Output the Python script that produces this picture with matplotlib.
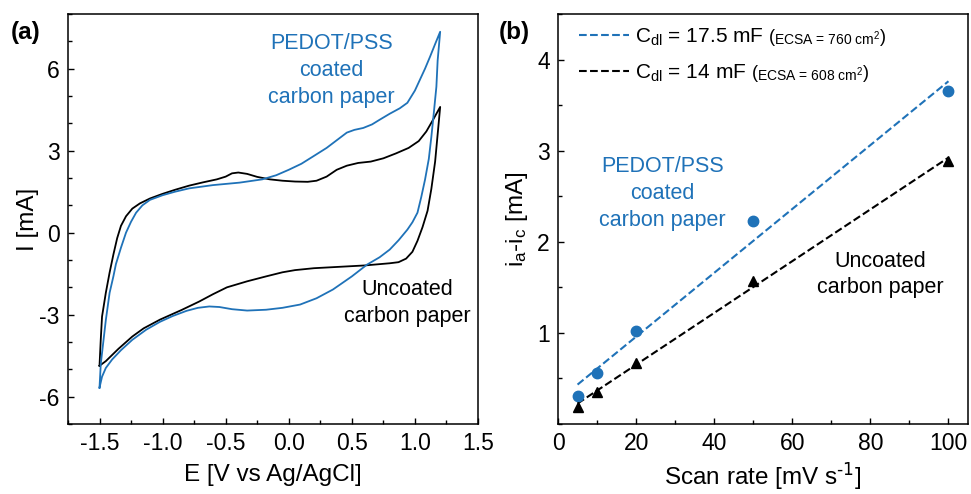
import numpy as np
import matplotlib.pyplot as plt
from matplotlib.ticker import MultipleLocator

plt.rcParams['font.family'] = ['Liberation Sans', 'DejaVu Sans']
plt.rcParams['mathtext.default'] = 'regular'
plt.rcParams['axes.unicode_minus'] = False

blue = '#1f72b8'

# (a) cyclic voltammograms
E_unc = [-1.5, -1.49, -1.48, -1.45, -1.42, -1.39, -1.36, -1.33, -1.29, -1.24, -1.18,
         -1.1, -1.0, -0.9, -0.79, -0.68, -0.57, -0.5, -0.45, -0.4, -0.33, -0.25,
         -0.15, -0.05, 0.05, 0.15, 0.22, 0.3, 0.38, 0.46, 0.55, 0.65, 0.75, 0.85,
         0.95, 1.03, 1.09, 1.14, 1.2,
         1.18, 1.16, 1.13, 1.1, 1.06, 1.02, 0.98, 0.93, 0.87, 0.8, 0.6, 0.4, 0.2,
         0.05, -0.05, -0.18, -0.33, -0.49, -0.6, -0.71, -0.85, -1.02, -1.15, -1.24,
         -1.35, -1.45, -1.5]
I_unc = [-4.87, -3.9, -3.07, -2.2, -1.46, -0.8, -0.2, 0.25, 0.6, 0.88, 1.07,
         1.25, 1.42, 1.57, 1.72, 1.84, 1.95, 2.05, 2.17, 2.2, 2.15, 2.04,
         1.95, 1.9, 1.87, 1.86, 1.9, 2.05, 2.3, 2.45, 2.55, 2.6, 2.72, 2.9,
         3.1, 3.35, 3.7, 4.1, 4.6,
         3.6, 2.6, 1.6, 0.8, 0.2, -0.3, -0.7, -0.95, -1.08, -1.12, -1.2, -1.25, -1.3,
         -1.37, -1.45, -1.6, -1.78, -2.0, -2.25, -2.52, -2.83, -3.18, -3.5, -3.8,
         -4.25, -4.7, -4.87]

E_ped = [-1.5, -1.49, -1.47, -1.45, -1.42, -1.39, -1.37, -1.33, -1.29, -1.25, -1.21,
         -1.16, -1.1, -1.0, -0.9, -0.79, -0.6, -0.39, -0.21, -0.1, 0.0, 0.1, 0.19,
         0.3, 0.4, 0.46, 0.52, 0.59, 0.66, 0.72, 0.8, 0.88, 0.94, 1.0, 1.04, 1.08,
         1.12, 1.16, 1.2,
         1.18, 1.17, 1.15, 1.13, 1.11, 1.08, 1.05, 1.02, 0.98, 0.94, 0.87, 0.8, 0.72,
         0.62, 0.5, 0.35, 0.22, 0.09, -0.05, -0.18, -0.33, -0.45, -0.55, -0.63,
         -0.72, -0.81, -0.92, -1.02, -1.13, -1.24, -1.33, -1.4, -1.45, -1.48, -1.5]
I_ped = [-5.67, -4.8, -4.0, -3.2, -2.2, -1.6, -1.15, -0.55, 0.0, 0.4, 0.73,
         1.0, 1.2, 1.37, 1.5, 1.62, 1.74, 1.83, 1.95, 2.1, 2.3, 2.52, 2.78,
         3.1, 3.45, 3.66, 3.76, 3.83, 3.96, 4.13, 4.35, 4.55, 4.75, 5.2, 5.6, 6.0,
         6.44, 6.9, 7.35,
         6.3, 5.34, 4.4, 3.5, 2.7, 1.94, 1.3, 0.73, 0.38, 0.11, -0.28, -0.62, -0.9,
         -1.17, -1.6, -2.08, -2.4, -2.63, -2.75, -2.82, -2.85, -2.8, -2.72, -2.7,
         -2.75, -2.86, -3.05, -3.26, -3.55, -3.92, -4.3, -4.64, -4.95, -5.27, -5.67]

# (b) double layer capacitance
scan_rate = np.array([5, 10, 20, 50, 100])
di_ped = np.array([0.31, 0.56, 1.02, 2.23, 3.65])
di_unc = np.array([0.19, 0.35, 0.67, 1.57, 2.89])
labels = ['C$_{dl}$ = 17.5 mF', 'C$_{dl}$ = 14 mF']
ecsa = ['760', '608']

fig = plt.figure(figsize=(9.71, 4.94), dpi=100)
ax1 = fig.add_axes([0.070, 0.1417, 0.4223, 0.83])
ax2 = fig.add_axes([0.5747, 0.1417, 0.4222, 0.83])

for ax in (ax1, ax2):
    ax.tick_params(which='both', direction='in', labelsize=16.5, top=False, right=False)
    ax.tick_params(which='major', length=4.5, width=1, pad=6)
    ax.tick_params(which='minor', length=3, width=1)
    for s in ax.spines.values():
        s.set_linewidth(1.1)

ax1.plot(E_unc, I_unc, color='black', lw=1.3)
ax1.plot(E_ped, I_ped, color=blue, lw=1.3)
ax1.set_xlim(-1.75, 1.5)
ax1.set_ylim(-7, 8)
ax1.xaxis.set_major_locator(MultipleLocator(0.5))
ax1.xaxis.set_minor_locator(MultipleLocator(0.25))
ax1.yaxis.set_major_locator(MultipleLocator(3))
ax1.yaxis.set_minor_locator(MultipleLocator(1))
ax1.xaxis.set_major_formatter(plt.FuncFormatter(lambda v, p: f'{v:.1f}'))
ax1.set_xlabel('E [V vs Ag/AgCl]', fontsize=17.5, labelpad=6)
ax1.set_ylabel('I [mA]', fontsize=17.5, labelpad=0)
ax1.text(0.34, 5.93, 'PEDOT/PSS\ncoated\ncarbon paper', color=blue, fontsize=15.5,
         ha='center', va='center', linespacing=1.4)
ax1.text(0.94, -2.58, 'Uncoated\ncarbon paper', color='black', fontsize=15.5,
         ha='center', va='center', linespacing=1.35)
fig.text(0.026, 0.935, '(a)', fontsize=17.5, fontweight='bold', ha='center', va='center')

# linear fits
for y, c in [(di_ped, blue), (di_unc, 'black')]:
    k, b = np.polyfit(scan_rate, y, 1)
    ax2.plot(scan_rate, k * scan_rate + b, '--', color=c, lw=1.5)
ax2.plot(scan_rate, di_ped, 'o', color=blue, ms=7.5, zorder=3)
ax2.plot(scan_rate, di_unc, '^', color='black', ms=7.5, zorder=3)
ax2.set_xlim(0, 105)
ax2.set_ylim(0, 4.5)
ax2.xaxis.set_major_locator(MultipleLocator(20))
ax2.xaxis.set_minor_locator(MultipleLocator(10))
ax2.yaxis.set_minor_locator(MultipleLocator(0.5))
ax2.set_yticks([1, 2, 3, 4])
ax2.set_xlabel('Scan rate [mV s$^{\\text{-1}}$]', fontsize=17.5, labelpad=4)
ax2.set_ylabel('i$_a$-i$_c$ [mA]', fontsize=17.5, labelpad=5)
ax2.text(26.8, 2.53, 'PEDOT/PSS\ncoated\ncarbon paper', color=blue, fontsize=15.5,
         ha='center', va='center', linespacing=1.35)
ax2.text(82.5, 1.64, 'Uncoated\ncarbon paper', color='black', fontsize=15.5,
         ha='center', va='center', linespacing=1.35)
fig.text(0.530, 0.935, '(b)', fontsize=17.5, fontweight='bold', ha='center', va='center')

h1, = ax2.plot([], [], '--', color=blue, lw=1.5)
h2, = ax2.plot([], [], '--', color='black', lw=1.5)
leg = ax2.legend([h1, h2], labels, loc='upper left', bbox_to_anchor=(0.02, 1.0),
                 frameon=False, fontsize=15, handlelength=2.4, handletextpad=0.3,
                 labelspacing=0.7, borderaxespad=0.2)
fig.canvas.draw()
for t, e in zip(leg.get_texts(), ecsa):
    p1 = ax2.annotate('(', xy=(1, 0.5), xycoords=t, xytext=(4, 0), textcoords='offset points',
                      fontsize=13, va='center', zorder=6)
    p2 = ax2.annotate(f'ECSA = {e} cm$^2$', xy=(1, 0.5), xycoords=p1, xytext=(-1, -1),
                      textcoords='offset points', fontsize=10, va='center', zorder=7)
    ax2.annotate(')', xy=(1, 0.5), xycoords=p2, xytext=(0, 1), textcoords='offset points',
                 fontsize=13, va='center', zorder=8)

fig.savefig('out.png', dpi=100)
